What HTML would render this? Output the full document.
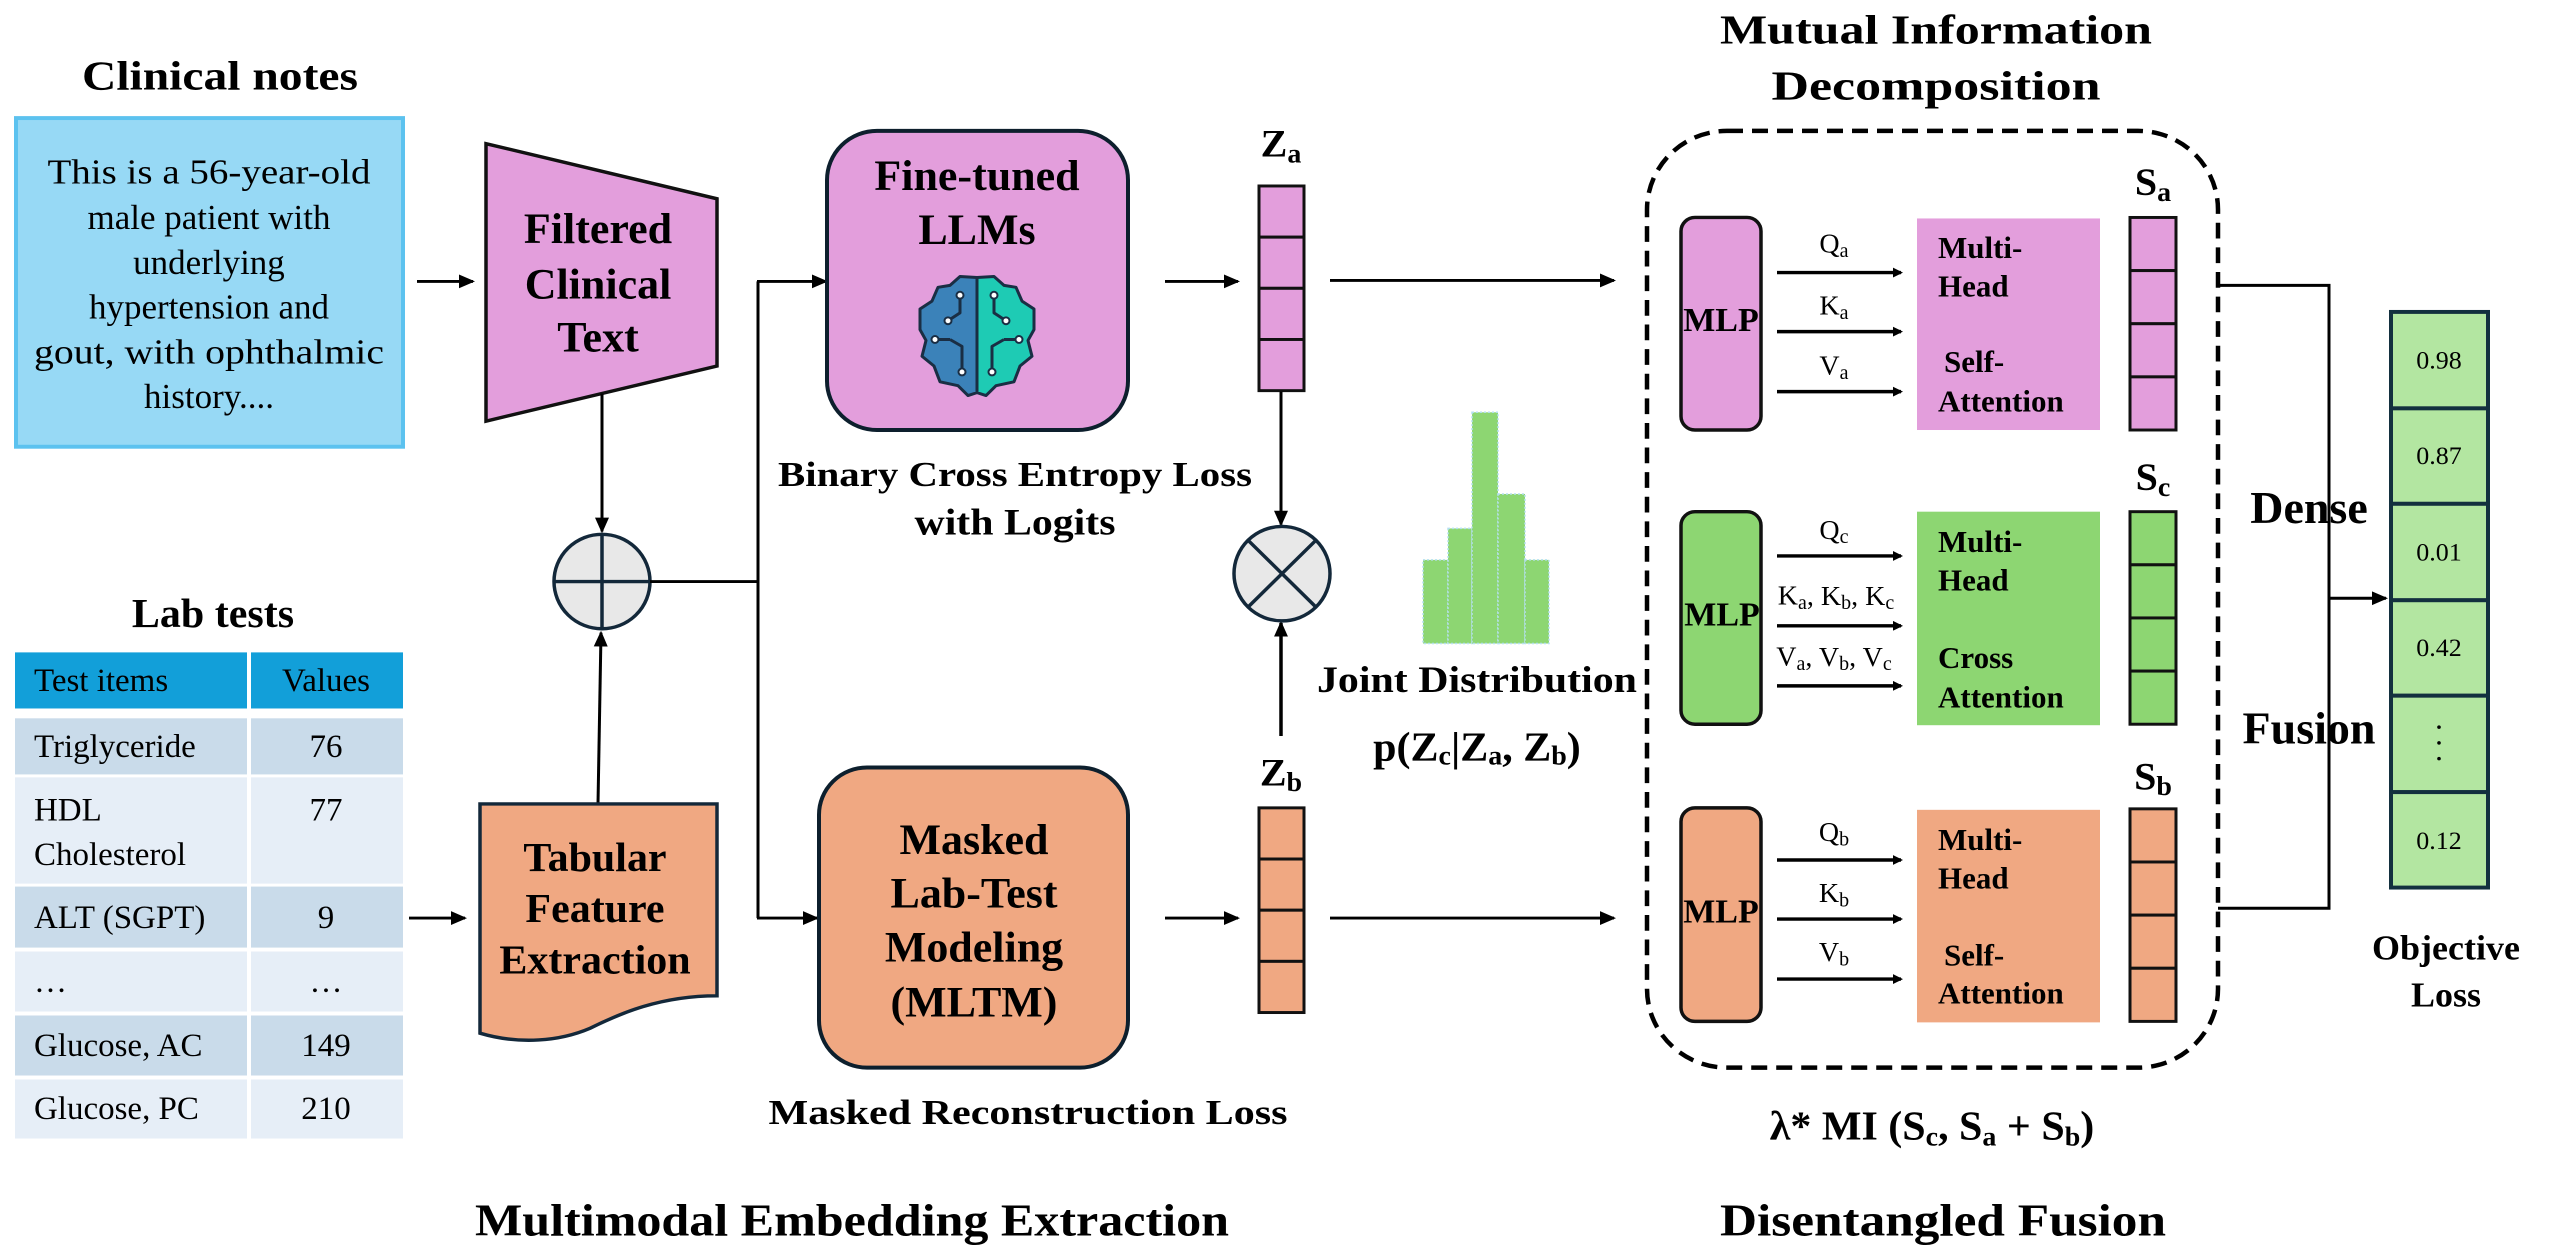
<!DOCTYPE html>
<html><head><meta charset="utf-8"><style>
html,body{margin:0;padding:0;background:#fff;}
svg{display:block;}
text{font-family:"Liberation Serif",serif;fill:#000;}
.b{font-weight:bold;}
</style></head><body>
<svg width="2550" height="1254" viewBox="0 0 2550 1254" xmlns="http://www.w3.org/2000/svg">
<defs>
<marker id="ar" markerWidth="10" markerHeight="10" refX="8" refY="5" orient="auto" markerUnits="userSpaceOnUse" viewBox="0 0 10 10">
<path d="M0,0 L10,5 L0,10 z" fill="#000"/></marker>
<marker id="ar2" markerWidth="16" markerHeight="16" refX="14" refY="8" orient="auto" markerUnits="userSpaceOnUse" viewBox="0 0 16 16">
<path d="M0,1 L16,8 L0,15 z" fill="#000"/></marker>
</defs>
<g transform="scale(1,0.984)">

<!-- Clinical notes -->
<text x="220" y="78" font-size="42" class="b" text-anchor="middle" dominant-baseline="central" textLength="276" lengthAdjust="spacingAndGlyphs">Clinical notes</text>
<rect x="16" y="120" width="387" height="334" fill="#97d9f5" stroke="#5cc2ef" stroke-width="4"/>
<g font-size="35" text-anchor="middle" dominant-baseline="central">
<text x="209" y="175" textLength="323" lengthAdjust="spacingAndGlyphs">This is a 56-year-old</text>
<text x="209" y="221">male patient with</text>
<text x="209" y="267">underlying</text>
<text x="209" y="312">hypertension and</text>
<text x="209" y="358" textLength="350" lengthAdjust="spacingAndGlyphs">gout, with ophthalmic</text>
<text x="209" y="403">history....</text>
</g>
<line x1="417" y1="286" x2="473" y2="286" stroke="#000" stroke-width="3" marker-end="url(#ar2)"/>

<!-- Filtered clinical text trapezoid -->
<polygon points="486,146 717,202 717,372 486,428" fill="#e39edc" stroke="#111" stroke-width="3.5"/>
<g font-size="44" class="b" text-anchor="middle" dominant-baseline="central">
<text x="598" y="233" class="b">Filtered</text>
<text x="598" y="289" class="b">Clinical</text>
<text x="598" y="343" class="b">Text</text>
</g>
<line x1="602" y1="400" x2="602" y2="540" stroke="#000" stroke-width="3" marker-end="url(#ar2)"/>

<!-- circle plus -->
<circle cx="602" cy="591" r="48" fill="#e8e8e8" stroke="#13283a" stroke-width="3.5"/>
<line x1="602" y1="543" x2="602" y2="639" stroke="#13283a" stroke-width="3.5"/>
<line x1="554" y1="591" x2="650" y2="591" stroke="#13283a" stroke-width="3.5"/>
<line x1="598" y1="817" x2="601" y2="643" stroke="#000" stroke-width="3" marker-end="url(#ar2)"/>
<polyline points="650,591 758,591" fill="none" stroke="#000" stroke-width="3"/>
<line x1="758" y1="286" x2="758" y2="933" stroke="#000" stroke-width="3"/>
<line x1="757" y1="286" x2="826" y2="286" stroke="#000" stroke-width="3" marker-end="url(#ar2)"/>
<line x1="757" y1="933" x2="817" y2="933" stroke="#000" stroke-width="3" marker-end="url(#ar2)"/>

<!-- LLM box -->
<rect x="827" y="133" width="301" height="304" rx="50" fill="#e39edc" stroke="#0d1f2d" stroke-width="4"/>
<text x="977" y="179" font-size="44" class="b" text-anchor="middle" dominant-baseline="central">Fine-tuned</text>
<text x="977" y="234" font-size="44" class="b" text-anchor="middle" dominant-baseline="central">LLMs</text>
<!-- brain -->
<g stroke="#1a2e44" stroke-width="3" stroke-linejoin="round">
<path d="M977,282 L960,281 L950,290 L938,292 L932,306 L920,314 L920,335 L926,346 L922,362 L934,372 L940,388 L958,392 L968,402 L977,399 Z" fill="#3b82b9"/>
<path d="M977,282 L994,281 L1004,290 L1016,292 L1022,306 L1034,314 L1034,335 L1028,346 L1032,362 L1020,372 L1014,388 L996,392 L986,402 L977,399 Z" fill="#1ecbb4"/>
<path d="M977,282 L977,399 M960,300 L960,318 L948,326 M994,300 L994,318 L1006,326 M950,345 L962,352 L962,378 M1004,345 L992,352 L992,378 M935,345 L950,345 M1019,345 L1004,345" fill="none"/>
</g>
<g fill="#fff" stroke="#1a2e44" stroke-width="2">
<circle cx="960" cy="300" r="3.5"/><circle cx="948" cy="326" r="3.5"/><circle cx="994" cy="300" r="3.5"/><circle cx="1006" cy="326" r="3.5"/>
<circle cx="935" cy="345" r="3.5"/><circle cx="1019" cy="345" r="3.5"/><circle cx="962" cy="378" r="3.5"/><circle cx="992" cy="378" r="3.5"/>
</g>
<text x="1015" y="482" font-size="36" class="b" text-anchor="middle" dominant-baseline="central" textLength="474" lengthAdjust="spacingAndGlyphs">Binary Cross Entropy Loss</text>
<text x="1015" y="531" font-size="38" class="b" text-anchor="middle" dominant-baseline="central" textLength="201" lengthAdjust="spacingAndGlyphs">with Logits</text>

<!-- Lab tests -->
<text x="213" y="624" font-size="42" class="b" text-anchor="middle" dominant-baseline="central">Lab tests</text>
<rect x="15" y="663" width="232" height="57" fill="#129fd9"/>
<rect x="251" y="663" width="152" height="57" fill="#129fd9"/>
<g fill="#c9dbea"><rect x="15" y="730" width="232" height="57"/><rect x="251" y="730" width="152" height="57"/>
<rect x="15" y="901" width="232" height="62"/><rect x="251" y="901" width="152" height="62"/>
<rect x="15" y="1032" width="232" height="61"/><rect x="251" y="1032" width="152" height="61"/></g>
<g fill="#e6eef7"><rect x="15" y="790" width="232" height="108"/><rect x="251" y="790" width="152" height="108"/>
<rect x="15" y="967" width="232" height="61"/><rect x="251" y="967" width="152" height="61"/>
<rect x="15" y="1097" width="232" height="60"/><rect x="251" y="1097" width="152" height="60"/></g>
<g font-size="33" dominant-baseline="central" fill="#1a1a1a">
<text x="34" y="692">Test items</text><text x="326" y="692" text-anchor="middle">Values</text>
<text x="34" y="759">Triglyceride</text><text x="326" y="759" text-anchor="middle">76</text>
<text x="34" y="824">HDL</text><text x="326" y="824" text-anchor="middle">77</text>
<text x="34" y="869">Cholesterol</text>
<text x="34" y="933">ALT (SGPT)</text><text x="326" y="933" text-anchor="middle">9</text>
<text x="34" y="998">…</text><text x="326" y="998" text-anchor="middle">…</text>
<text x="34" y="1063">Glucose, AC</text><text x="326" y="1063" text-anchor="middle">149</text>
<text x="34" y="1127">Glucose, PC</text><text x="326" y="1127" text-anchor="middle">210</text>
</g>
<line x1="409" y1="933" x2="465" y2="933" stroke="#000" stroke-width="3" marker-end="url(#ar2)"/>

<!-- Tabular doc -->
<path d="M480,817 L717,817 L717,1012 C660,1012 620,1030 590,1045 C560,1058 520,1062 480,1050 Z" fill="#f0a882" stroke="#13283a" stroke-width="3.5"/>
<g font-size="42" class="b" text-anchor="middle" dominant-baseline="central">
<text x="595" y="872" class="b">Tabular</text>
<text x="595" y="924" class="b">Feature</text>
<text x="595" y="976" class="b">Extraction</text>
</g>

<!-- MLTM -->
<rect x="819" y="780" width="309" height="305" rx="48" fill="#f0a882" stroke="#0d1f2d" stroke-width="4"/>
<g font-size="44" class="b" text-anchor="middle" dominant-baseline="central">
<text x="974" y="854" class="b">Masked</text>
<text x="974" y="908" class="b">Lab-Test</text>
<text x="974" y="963" class="b">Modeling</text>
<text x="974" y="1019" class="b">(MLTM)</text>
</g>
<text x="1028" y="1130" font-size="36" class="b" text-anchor="middle" dominant-baseline="central" textLength="519" lengthAdjust="spacingAndGlyphs">Masked Reconstruction Loss</text>
<text x="852" y="1240" font-size="46" class="b" text-anchor="middle" dominant-baseline="central" textLength="754" lengthAdjust="spacingAndGlyphs">Multimodal Embedding Extraction</text>

<!-- arrows to Z -->
<line x1="1165" y1="286" x2="1238" y2="286" stroke="#000" stroke-width="3" marker-end="url(#ar2)"/>
<line x1="1165" y1="933" x2="1238" y2="933" stroke="#000" stroke-width="3" marker-end="url(#ar2)"/>

<!-- Za / Zb vectors -->
<text x="1281" y="146" font-size="40" class="b" text-anchor="middle" dominant-baseline="central">Z<tspan font-size="28" dy="10">a</tspan></text>
<g fill="#e39edc" stroke="#111" stroke-width="3">
<rect x="1259" y="189" width="45" height="52"/><rect x="1259" y="241" width="45" height="52"/><rect x="1259" y="293" width="45" height="52"/><rect x="1259" y="345" width="45" height="52"/></g>
<text x="1281" y="785" font-size="40" class="b" text-anchor="middle" dominant-baseline="central">Z<tspan font-size="28" dy="10">b</tspan></text>
<g fill="#f0a882" stroke="#111" stroke-width="3">
<rect x="1259" y="821" width="45" height="52"/><rect x="1259" y="873" width="45" height="52"/><rect x="1259" y="925" width="45" height="52"/><rect x="1259" y="977" width="45" height="52"/></g>

<line x1="1281" y1="398" x2="1281" y2="533" stroke="#000" stroke-width="3" marker-end="url(#ar2)"/>
<line x1="1281" y1="748" x2="1281" y2="633" stroke="#000" stroke-width="3.5" marker-end="url(#ar2)"/>
<circle cx="1282" cy="583" r="48" fill="#e8e8e8" stroke="#13283a" stroke-width="3.5"/>
<line x1="1248" y1="549" x2="1316" y2="617" stroke="#13283a" stroke-width="3.5"/>
<line x1="1316" y1="549" x2="1248" y2="617" stroke="#13283a" stroke-width="3.5"/>

<line x1="1330" y1="285" x2="1614" y2="285" stroke="#000" stroke-width="3" marker-end="url(#ar2)"/>
<line x1="1330" y1="933" x2="1614" y2="933" stroke="#000" stroke-width="3" marker-end="url(#ar2)"/>

<!-- histogram -->
<g fill="#8dd672" stroke="#b5e0f0" stroke-width="1.5" stroke-dasharray="2,2">
<rect x="1423" y="569" width="25" height="85"/><rect x="1448" y="537" width="24" height="117"/><rect x="1472" y="419" width="26" height="235"/><rect x="1498" y="502" width="27" height="152"/><rect x="1525" y="569" width="24" height="85"/></g>
<text x="1477" y="691" font-size="38" class="b" text-anchor="middle" dominant-baseline="central" textLength="320" lengthAdjust="spacingAndGlyphs">Joint Distribution</text>
<text x="1477" y="760" font-size="42" class="b" text-anchor="middle" dominant-baseline="central">p(Z<tspan font-size="28" dy="8">c</tspan><tspan dy="-8">|Z</tspan><tspan font-size="28" dy="8">a</tspan><tspan dy="-8">, Z</tspan><tspan font-size="28" dy="8">b</tspan><tspan dy="-8">)</tspan></text>

<!-- MI title -->
<text x="1936" y="31" font-size="42" class="b" text-anchor="middle" dominant-baseline="central" textLength="432" lengthAdjust="spacingAndGlyphs">Mutual Information</text>
<text x="1936" y="88" font-size="42" class="b" text-anchor="middle" dominant-baseline="central" textLength="329" lengthAdjust="spacingAndGlyphs">Decomposition</text>

<!-- dashed box -->
<rect x="1647" y="133" width="571" height="952" rx="80" fill="none" stroke="#000" stroke-width="4.5" stroke-dasharray="16,9"/>

<!-- rows -->
<g stroke="#111" stroke-width="3.5">
<rect x="1681" y="221" width="80" height="216" rx="14" fill="#e39edc"/>
<rect x="1681" y="520" width="80" height="216" rx="14" fill="#8dd672"/>
<rect x="1681" y="821" width="80" height="217" rx="14" fill="#f0a882"/>
</g>
<g font-size="34" class="b" text-anchor="middle" dominant-baseline="central">
<text x="1721" y="326" class="b">MLP</text><text x="1722" y="625" class="b">MLP</text><text x="1721" y="927" class="b">MLP</text>
</g>
<g stroke="#000" stroke-width="3.5">
<line x1="1777" y1="277" x2="1901" y2="277" marker-end="url(#ar)"/>
<line x1="1777" y1="337" x2="1901" y2="337" marker-end="url(#ar)"/>
<line x1="1777" y1="398" x2="1901" y2="398" marker-end="url(#ar)"/>
<line x1="1777" y1="565" x2="1901" y2="565" marker-end="url(#ar)"/>
<line x1="1777" y1="636" x2="1901" y2="636" marker-end="url(#ar)"/>
<line x1="1777" y1="697" x2="1901" y2="697" marker-end="url(#ar)"/>
<line x1="1777" y1="874" x2="1901" y2="874" marker-end="url(#ar)"/>
<line x1="1777" y1="934" x2="1901" y2="934" marker-end="url(#ar)"/>
<line x1="1777" y1="995" x2="1901" y2="995" marker-end="url(#ar)"/>
</g>
<g font-size="28" text-anchor="middle" dominant-baseline="central">
<text x="1834" y="248">Q<tspan font-size="20" dy="7">a</tspan></text>
<text x="1834" y="311">K<tspan font-size="20" dy="7">a</tspan></text>
<text x="1834" y="372">V<tspan font-size="20" dy="7">a</tspan></text>
<text x="1834" y="539">Q<tspan font-size="20" dy="7">c</tspan></text>
<text x="1836" y="606">K<tspan font-size="20" dy="7">a</tspan><tspan dy="-7">, K</tspan><tspan font-size="20" dy="7">b</tspan><tspan dy="-7">, K</tspan><tspan font-size="20" dy="7">c</tspan></text>
<text x="1834" y="668">V<tspan font-size="20" dy="7">a</tspan><tspan dy="-7">, V</tspan><tspan font-size="20" dy="7">b</tspan><tspan dy="-7">, V</tspan><tspan font-size="20" dy="7">c</tspan></text>
<text x="1834" y="846">Q<tspan font-size="20" dy="7">b</tspan></text>
<text x="1834" y="908">K<tspan font-size="20" dy="7">b</tspan></text>
<text x="1834" y="968">V<tspan font-size="20" dy="7">b</tspan></text>
</g>
<rect x="1917" y="222" width="183" height="215" fill="#e39edc"/>
<rect x="1917" y="520" width="183" height="217" fill="#8dd672"/>
<rect x="1917" y="823" width="183" height="216" fill="#f0a882"/>
<g font-size="31" class="b" dominant-baseline="central">
<text x="1938" y="252" class="b">Multi-</text><text x="1938" y="291" class="b">Head</text><text x="1944" y="368" class="b">Self-</text><text x="1938" y="408" class="b">Attention</text>
<text x="1938" y="551" class="b">Multi-</text><text x="1938" y="590" class="b">Head</text><text x="1938" y="669" class="b">Cross</text><text x="1938" y="709" class="b">Attention</text>
<text x="1938" y="854" class="b">Multi-</text><text x="1938" y="893" class="b">Head</text><text x="1944" y="971" class="b">Self-</text><text x="1938" y="1010" class="b">Attention</text>
</g>

<!-- S vectors -->
<g font-size="40" class="b" text-anchor="middle" dominant-baseline="central">
<text x="2153" y="185">S<tspan font-size="28" dy="10">a</tspan></text>
<text x="2153" y="485">S<tspan font-size="28" dy="10">c</tspan></text>
<text x="2153" y="789">S<tspan font-size="28" dy="10">b</tspan></text>
</g>
<g stroke="#111" stroke-width="3">
<g fill="#e39edc"><rect x="2130" y="221" width="46" height="54"/><rect x="2130" y="275" width="46" height="54"/><rect x="2130" y="329" width="46" height="54"/><rect x="2130" y="383" width="46" height="54"/></g>
<g fill="#8dd672"><rect x="2130" y="520" width="46" height="54"/><rect x="2130" y="574" width="46" height="54"/><rect x="2130" y="628" width="46" height="54"/><rect x="2130" y="682" width="46" height="54"/></g>
<g fill="#f0a882"><rect x="2130" y="822" width="46" height="54"/><rect x="2130" y="876" width="46" height="54"/><rect x="2130" y="930" width="46" height="54"/><rect x="2130" y="984" width="46" height="54"/></g>
</g>

<!-- Dense fusion -->
<g font-size="46" class="b" text-anchor="middle" dominant-baseline="central">
<text x="2309" y="516" class="b">Dense</text>
<text x="2309" y="740" class="b">Fusion</text>
</g>
<polyline points="2218,290 2329,290 2329,923 2218,923" fill="none" stroke="#000" stroke-width="3"/>
<line x1="2329" y1="608" x2="2386" y2="608" stroke="#000" stroke-width="3" marker-end="url(#ar2)"/>

<!-- output vector -->
<g fill="#b3e6a1" stroke="#13303f" stroke-width="4">
<rect x="2391" y="317" width="97" height="98"/><rect x="2391" y="415" width="97" height="97"/><rect x="2391" y="512" width="97" height="98"/><rect x="2391" y="610" width="97" height="97"/><rect x="2391" y="707" width="97" height="98"/><rect x="2391" y="805" width="97" height="97"/>
</g>
<g font-size="26" text-anchor="middle" dominant-baseline="central">
<text x="2439" y="366">0.98</text><text x="2439" y="463">0.87</text><text x="2439" y="561">0.01</text><text x="2439" y="658">0.42</text><text x="2439" y="854">0.12</text>
</g>
<g fill="#000"><circle cx="2439" cy="739" r="1.8"/><circle cx="2439" cy="755" r="1.8"/><circle cx="2439" cy="771" r="1.8"/></g>
<text x="2446" y="963" font-size="36" class="b" text-anchor="middle" dominant-baseline="central">Objective</text>
<text x="2446" y="1011" font-size="36" class="b" text-anchor="middle" dominant-baseline="central">Loss</text>

<text x="1932" y="1145" font-size="42" class="b" text-anchor="middle" dominant-baseline="central">λ* MI (S<tspan font-size="28" dy="10">c</tspan><tspan dy="-10">, S</tspan><tspan font-size="28" dy="10">a</tspan><tspan dy="-10"> + S</tspan><tspan font-size="28" dy="10">b</tspan><tspan dy="-10">)</tspan></text>
<text x="1943" y="1240" font-size="46" class="b" text-anchor="middle" dominant-baseline="central" textLength="446" lengthAdjust="spacingAndGlyphs">Disentangled Fusion</text>
</g>
</svg>
</body></html>
